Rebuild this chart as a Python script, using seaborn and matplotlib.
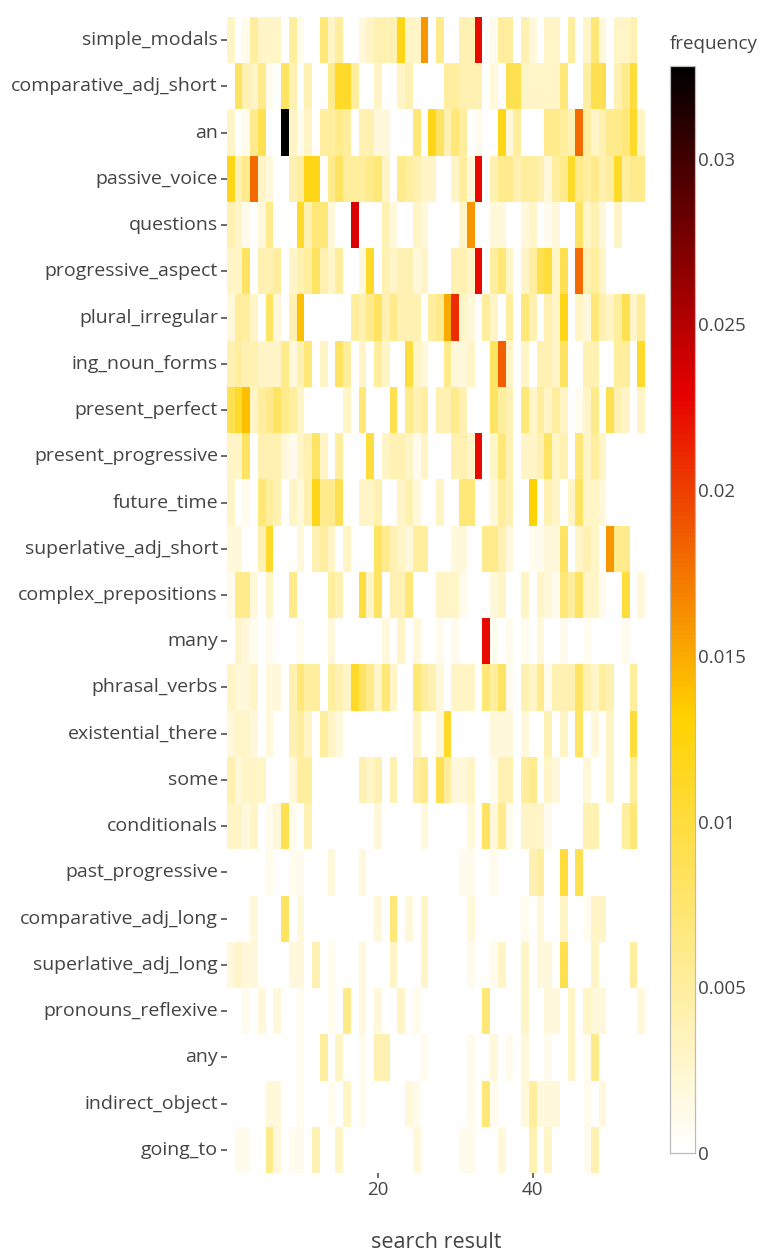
import numpy as np
import pandas as pd
import matplotlib
matplotlib.use("Agg")
import matplotlib.pyplot as plt
import seaborn as sns
from matplotlib.colors import LinearSegmentedColormap

sns.set_style("white")
plt.rcParams['font.family'] = ['Open Sans', 'DejaVu Sans']

# feature rows, top to bottom
features = ['simple_modals', 'comparative_adj_short', 'an', 'passive_voice', 'questions',
            'progressive_aspect', 'plural_irregular', 'ing_noun_forms', 'present_perfect',
            'present_progressive', 'future_time', 'superlative_adj_short', 'complex_prepositions',
            'many', 'phrasal_verbs', 'existential_there', 'some', 'conditionals',
            'past_progressive', 'comparative_adj_long', 'superlative_adj_long',
            'pronouns_reflexive', 'any', 'indirect_object', 'going_to']
search_results = list(range(1, 55))

# frequencies, in thousandths, one list per feature (search results 1..54)
simple_modals = [3, 0, 1, 5, 3, 3, 3, 0, 5, 1, 0, 0, 7, 3, 5, 0, 0, 2, 3, 4, 4, 4, 12, 3, 3, 16, 0,
                 6, 0, 0, 4, 4, 22.5, 0, 1, 5, 5, 0, 4, 2, 0, 3, 3, 0, 5, 0, 3, 7, 2, 0, 3, 3, 4, 0]
comparative_adj_short = [0, 8, 4, 3, 6, 1, 0, 8, 4, 0, 4, 0, 0, 6, 11, 11, 5, 0, 0, 3, 0, 0, 3, 4, 0, 0, 0,
                         0, 5, 5, 4, 4, 4, 0, 2, 0, 9, 9, 3, 3, 3, 3, 3, 7, 0, 0, 5, 9, 9, 0, 4, 6, 10, 0]
an = [3, 0, 1, 6, 9, 0, 0, 32.8, 3, 1, 3, 0, 5, 5, 6, 5, 0, 4, 4, 2, 2, 0, 0, 0, 7, 0, 12,
      8, 4, 7, 5, 0, 1, 0, 0, 12, 2, 5, 0, 0, 0, 6, 6, 5, 4, 18, 5, 3, 4, 6, 6, 7, 11, 3]
passive_voice = [12, 4, 6, 18, 3, 2, 0, 0, 4, 5, 12, 12, 0, 6, 8, 5, 5, 5, 6, 7, 3, 0, 6, 5, 4, 3, 3,
                 0, 0, 3, 5, 2, 22.5, 0, 4, 6, 6, 4, 5, 5, 4, 2, 5, 6, 11, 6, 5, 6, 4, 5, 11, 5, 6, 6]
questions = [4, 3, 1, 0, 2, 6, 0, 0, 0, 11, 4, 7, 7, 2, 0, 0, 23.5, 0, 0, 0, 4, 2, 0, 0, 3, 2, 0,
             0, 0, 0, 3, 16, 0, 0, 2, 2, 0, 0, 2, 3, 0, 1, 2, 0, 0, 8, 3, 4, 2, 0, 3, 0, 0, 0]
progressive_aspect = [3, 3, 8, 0, 4, 4, 5, 0, 3, 4, 5, 8, 4, 3, 5, 0, 0, 2, 11, 0, 4, 3, 4, 4, 2, 3, 0,
                      0, 0, 4, 4, 3, 22.5, 0, 5, 7, 3, 0, 3, 5, 9, 10, 3, 9, 0, 18, 4, 5, 3, 0, 0, 0, 0, 0]
plural_irregular = [2, 5, 5, 3, 0, 8, 2, 0, 4, 14, 0, 0, 0, 0, 0, 0, 5, 4, 6, 8, 4, 6, 4, 4, 4, 0, 5,
                    6, 15, 21, 3, 2, 0, 5, 3, 0, 5, 0, 7, 4, 0, 4, 3, 12, 0, 3, 2, 7, 4, 3, 5, 9, 3, 5]
ing_noun_forms = [4, 5, 4, 4, 3, 3, 3, 6, 2, 4, 7, 0, 3, 0, 8, 5, 0, 3, 0, 5, 3, 0, 0, 10, 3, 2, 0,
                  0, 6, 2, 2, 3, 0, 0, 8, 18.5, 3, 0, 3, 0, 4, 4, 3, 8, 0, 0, 4, 4, 0, 0, 5, 5, 0, 11]
present_perfect = [9, 11, 14, 3, 5, 6, 8, 6, 5, 3, 0, 0, 0, 0, 0, 3, 0, 7, 0, 0, 0, 9, 0, 6, 4, 5, 0,
                   4, 4, 6, 4, 0, 0, 0, 8, 5, 4, 0, 7, 3, 5, 3, 5, 3, 0, 1, 3, 6, 0, 9, 4, 3, 0, 3]
present_progressive = [3, 3, 8, 0, 4, 4, 4, 2, 1, 3, 4, 8, 3, 0, 5, 0, 0, 0, 10, 0, 3, 4, 4, 3, 1, 3, 0,
                       0, 0, 4, 4, 3, 22.5, 0, 3, 7, 4, 0, 3, 3, 4, 8, 3, 4, 0, 7, 3, 5, 3, 0, 0, 0, 0, 0]
future_time = [3, 0, 1, 0, 7, 5, 4, 0, 3, 2, 4, 12, 6, 6, 9, 0, 0, 3, 3, 4, 0, 0, 3, 4, 2, 0, 0,
               3, 0, 0, 7, 7, 0, 0, 2, 5, 4, 0, 0, 13, 0, 4, 3, 0, 3, 8, 3, 3, 2, 0, 0, 0, 0, 0]
superlative_adj_short = [2, 2, 0, 0, 4, 11, 0, 0, 0, 2, 0, 4, 5, 3, 0, 3, 0, 0, 0, 8, 6, 4, 3, 2, 5, 5, 0,
                         0, 0, 2, 2, 0, 0, 6, 6, 4, 2, 0, 0, 1, 1, 2, 2, 8, 0, 3, 4, 3, 0, 16, 6, 6, 0, 0]
complex_prepositions = [1, 6, 6, 2, 0, 3, 0, 0, 6, 0, 0, 0, 0, 5, 4, 0, 0, 10, 3, 8, 0, 4, 4, 7, 0, 0, 0,
                        3, 3, 3, 1, 0, 0, 0, 2, 3, 0, 0, 3, 0, 3, 2, 1, 7, 5, 8, 3, 3, 1, 0, 0, 10, 0, 2]
many = [0, 3, 2, 1, 0, 1, 0, 0, 0, 1, 0, 0, 0, 2, 0, 0, 0, 0, 0, 0, 2, 0, 3, 0, 2, 0, 0,
        1, 0, 1, 0, 0, 0, 22.5, 1, 0, 1, 0, 1, 0, 2, 0, 0, 1, 0, 0, 1, 0, 0, 0, 0, 1, 0, 0]
phrasal_verbs = [3, 2, 2, 3, 0, 2, 2, 0, 4, 7, 5, 5, 0, 5, 4, 3, 11, 8, 6, 3, 7, 3, 0, 0, 7, 5, 4,
                 2, 0, 3, 3, 3, 0, 7, 5, 8, 1, 0, 4, 3, 6, 1, 4, 4, 4, 8, 4, 3, 5, 4, 0, 0, 5, 0]
existential_there = [2, 3, 3, 2, 0, 2, 0, 0, 4, 5, 3, 0, 5, 3, 2, 0, 0, 0, 0, 0, 0, 0, 0, 0, 3, 0, 0,
                     2, 11, 0, 0, 0, 0, 0, 2, 2, 2, 0, 2, 0, 0, 4, 0, 3, 0, 8, 0, 2, 0, 3, 0, 0, 10, 0]
some = [4, 2, 3, 3, 3, 0, 0, 0, 2, 5, 5, 0, 0, 0, 0, 0, 0, 4, 3, 4, 0, 4, 0, 0, 5, 6, 0,
        9, 5, 2, 2, 3, 0, 0, 1, 4, 4, 0, 5, 6, 0, 3, 2, 0, 0, 0, 2, 0, 0, 3, 0, 0, 5, 0]
conditionals = [3, 3, 2, 3, 0, 1, 2, 9, 1, 0, 4, 0, 0, 0, 0, 0, 0, 0, 0, 2, 0, 0, 0, 0, 0, 2, 0,
                0, 0, 0, 0, 2, 0, 8, 2, 6, 1, 0, 3, 3, 3, 1, 0, 0, 0, 0, 4, 4, 0, 0, 0, 5, 7, 0]
past_progressive = [0, 0, 0, 0, 0, 1, 0, 0, 1, 1, 0, 0, 0, 2, 0, 0, 0, 2, 0, 0, 0, 0, 0, 0, 0, 0, 0,
                    0, 0, 0, 1, 1, 0, 0, 1, 0, 0, 0, 0, 4, 5, 0, 0, 10, 0, 9, 0, 0, 0, 0, 0, 0, 0, 0]
comparative_adj_long = [0, 0, 0, 2, 0, 0, 0, 8, 0, 2, 0, 0, 0, 0, 0, 0, 0, 0, 0, 2, 0, 7, 0, 2, 0, 3, 0,
                        0, 0, 0, 0, 2, 0, 0, 0, 0, 0, 0, 1, 0, 2, 0, 0, 3, 0, 0, 1, 3, 3, 0, 0, 0, 0, 0]
superlative_adj_long = [2, 3, 2, 2, 0, 0, 0, 0, 2, 2, 0, 4, 0, 1, 0, 0, 0, 2, 0, 0, 0, 3, 0, 0, 0, 3, 0,
                        0, 0, 0, 0, 1, 0, 0, 1, 3, 0, 0, 3, 0, 2, 2, 0, 9, 0, 0, 0, 3, 0, 0, 0, 0, 5, 0]
pronouns_reflexive = [0, 0, 1, 0, 2, 0, 2, 0, 0, 1, 0, 0, 0, 1, 0, 6, 0, 2, 0, 2, 0, 0, 3, 0, 1, 0, 0,
                      0, 0, 0, 0, 0, 0, 7, 0, 0, 0, 0, 3, 0, 0, 2, 2, 0, 3, 0, 3, 2, 2, 0, 0, 0, 0, 2]
any_ = [0, 0, 0, 0, 0, 0, 0, 0, 0, 1, 0, 0, 5, 0, 3, 0, 0, 1, 0, 4, 4, 0, 0, 0, 0, 1, 0,
        0, 0, 0, 0, 1, 0, 0, 2, 0, 1, 0, 2, 0, 0, 1, 0, 0, 3, 0, 1, 6, 0, 0, 0, 0, 0, 0]
indirect_object = [0, 0, 0, 0, 0, 2, 2, 0, 0, 1, 0, 0, 0, 1, 0, 3, 0, 1, 0, 0, 0, 0, 0, 2, 1, 0, 0,
                   0, 0, 0, 0, 1, 0, 7, 1, 0, 0, 0, 2, 5, 2, 2, 2, 0, 0, 0, 1, 0, 2, 0, 0, 0, 0, 0]
going_to = [0, 1, 1, 0, 0, 6, 2, 0, 1, 1, 0, 4, 0, 0, 3, 0, 0, 0, 0, 0, 0, 0, 0, 0, 2, 0, 0,
            0, 0, 0, 1, 1, 0, 0, 0, 2, 0, 0, 0, 4, 0, 3, 0, 0, 0, 0, 1, 4, 0, 0, 0, 0, 0, 0]

rows = [simple_modals, comparative_adj_short, an, passive_voice, questions, progressive_aspect,
        plural_irregular, ing_noun_forms, present_perfect, present_progressive, future_time,
        superlative_adj_short, complex_prepositions, many, phrasal_verbs, existential_there, some,
        conditionals, past_progressive, comparative_adj_long, superlative_adj_long,
        pronouns_reflexive, any_, indirect_object, going_to]
df = pd.DataFrame(np.array(rows, dtype=float) / 1000, index=features, columns=search_results)

# plotly "Hot", reversed
hot_r = LinearSegmentedColormap.from_list(
    "hot_r", [(0, "#ffffff"), (0.4, "#ffd200"), (0.7, "#e60000"), (1, "#000000")])

text_color = "#444444"
fig = plt.figure(figsize=(7.63, 12.56), dpi=100)
ax = fig.add_axes([227 / 763, 1 - 1173 / 1256, 418 / 763, 1156 / 1256])
cax = fig.add_axes([670 / 763, 1 - 1153 / 1256, 25 / 763, 1087 / 1256])

sns.heatmap(df, ax=ax, cbar_ax=cax, cmap=hot_r, vmin=0, vmax=df.values.max())

ax.set_xticks([19.5, 39.5])
ax.set_xticklabels(["20", "40"], rotation=0)
ax.set_yticks(np.arange(len(features)) + 0.5)
ax.set_yticklabels(features, rotation=0)
ax.tick_params(axis="y", left=True, colors=text_color, labelsize=14, length=4.5, width=1.1, pad=2)
ax.tick_params(axis="x", bottom=True, colors=text_color, labelsize=13.5, length=3.5, width=1.1, pad=2)
ax.set_xlabel("search result", fontsize=15.5, color=text_color, labelpad=24)
ax.set_ylabel("")

cax.tick_params(colors=text_color, labelsize=13.5, length=0, pad=2)
cax.set_yticks([0, 0.005, 0.01, 0.015, 0.02, 0.025, 0.03])
cax.set_yticklabels(["0", "0.005", "0.01", "0.015", "0.02", "0.025", "0.03"])
for s in cax.spines.values():
    s.set_visible(True)
    s.set_color("#bbbbbb")
    s.set_linewidth(0.8)
cax.set_title("frequency", fontsize=13.5, color=text_color, loc="left", pad=12)

fig.savefig("out.png", dpi=100)
